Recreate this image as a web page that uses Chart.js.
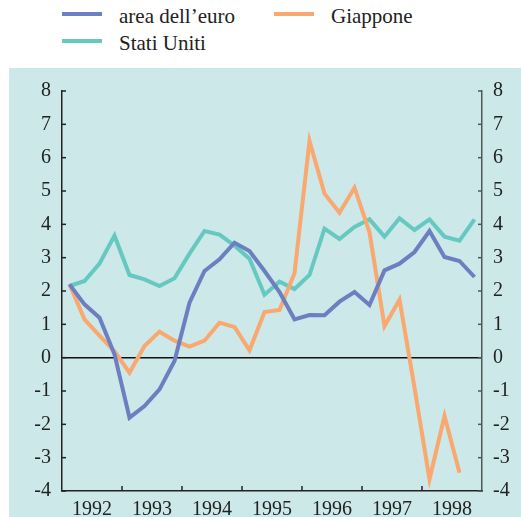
<!DOCTYPE html>
<html>
<head>
<meta charset="utf-8">
<script src="https://cdn.jsdelivr.net/npm/chart.js@4"></script>
<style>
    body { margin: 0; background: #fff; width: 521px; height: 517px; position: relative; overflow: hidden; }
    .legend-item { position: absolute; font-family: 'Liberation Serif'; font-size: 21px; line-height: 20px; color: #222; white-space: nowrap; }
    .swatch { position: absolute; width: 40px; height: 4px; }
    #panel { position: absolute; left: 9px; top: 68px; width: 512px; height: 449px; background: #cce8e8; }
</style>
</head>
<body>
<div id="legend"></div>
<div id="panel"><canvas id="chart" width="512" height="449"></canvas></div>
<script>
// Chart data
const years = ['1992', '1993', '1994', '1995', '1996', '1997', '1998'];
const quarters = years.flatMap(y => ['I', 'II', 'III', 'IV'].map(q => q + ' trim. ' + y));

const euroArea = [2.2, 1.6, 1.2, 0.1, -1.8, -1.45, -0.95, -0.1, 1.65, 2.6, 2.95, 3.45, 3.2, 2.6,
                  1.97, 1.15, 1.28, 1.27, 1.68, 1.97, 1.58, 2.62, 2.82, 3.17, 3.8, 3.02, 2.9, 2.42];
const japan = [2.2, 1.15, 0.66, 0.19, -0.45, 0.35, 0.78, 0.51, 0.33, 0.51, 1.05, 0.92, 0.22, 1.37,
               1.43, 2.53, 6.5, 4.92, 4.35, 5.1, 3.76, 0.95, 1.74, -0.9, -3.65, -1.75, -3.45, null];
const unitedStates = [2.15, 2.3, 2.82, 3.66, 2.48, 2.35, 2.15, 2.38, 3.12, 3.8, 3.69, 3.36, 2.97, 1.89,
                      2.28, 2.06, 2.48, 3.87, 3.56, 3.92, 4.15, 3.63, 4.18, 3.83, 4.15, 3.63, 3.51, 4.15];

const series = [
    { label: 'area dell\u2019euro', data: euroArea, color: '#6b7fc1' },
    { label: 'Giappone', data: japan, color: '#f9a870' },
    { label: 'Stati Uniti', data: unitedStates, color: '#66c9c1' }
];

// HTML legend (two columns)
const legendPos = [
    { x: 62, y: 6 },
    { x: 274, y: 6 },
    { x: 62, y: 33 }
];
const legendEl = document.getElementById('legend');
series.forEach((s, i) => {
    const p = legendPos[i];
    const sw = document.createElement('div');
    sw.className = 'swatch';
    sw.style.left = p.x + 'px';
    sw.style.top = (p.y + 6) + 'px';
    sw.style.background = s.color;
    legendEl.appendChild(sw);
    const t = document.createElement('div');
    t.className = 'legend-item';
    t.style.left = (p.x + 57) + 'px';
    t.style.top = p.y + 'px';
    t.textContent = s.label;
    legendEl.appendChild(t);
});

// Inward tick marks
const innerTicks = {
    id: 'innerTicks',
    afterDraw(chart) {
        const { ctx, chartArea } = chart;
        ctx.save();
        ctx.lineWidth = 1.5;
        ctx.strokeStyle = '#222';
        chart.scales.y.ticks.forEach(t => {
            const py = chart.scales.y.getPixelForValue(t.value);
            ctx.beginPath(); ctx.moveTo(chartArea.left, py); ctx.lineTo(chartArea.left + 4, py); ctx.stroke();
        });
        ctx.strokeStyle = '#4a5a58';
        chart.scales.y2.ticks.forEach(t => {
            const py = chart.scales.y2.getPixelForValue(t.value);
            ctx.beginPath(); ctx.moveTo(chartArea.right, py); ctx.lineTo(chartArea.right - 4, py); ctx.stroke();
        });
        ctx.strokeStyle = '#222';
        const xs = chart.scales.x2;
        for (let i = 1; i < years.length; i++) {
            const px = (xs.getPixelForTick(i - 1) + xs.getPixelForTick(i)) / 2;
            ctx.beginPath(); ctx.moveTo(px, chartArea.bottom); ctx.lineTo(px, chartArea.bottom - 5); ctx.stroke();
        }
        ctx.restore();
    }
};

Chart.defaults.font.family = 'Liberation Serif';
Chart.defaults.font.size = 20;
Chart.defaults.color = '#222';

const yTicks = { stepSize: 1, padding: 11, font: { family: 'Liberation Serif', size: 20 } };

new Chart(document.getElementById('chart').getContext('2d'), {
    type: 'line',
    data: {
        labels: quarters,
        datasets: series.map((s, i) => ({
            label: s.label,
            data: s.data,
            borderColor: s.color,
            backgroundColor: s.color,
            borderWidth: 4,
            pointRadius: 0,
            tension: 0,
            spanGaps: false,
            order: i
        }))
    },
    options: {
        responsive: false,
        animation: false,
        devicePixelRatio: 1,
        layout: { padding: { top: 16.5, left: 0, right: 0, bottom: 0 } },
        plugins: { legend: { display: false }, tooltip: { enabled: false } },
        scales: {
            x: {
                type: 'category',
                offset: true,
                display: false
            },
            x2: {
                type: 'category',
                labels: years,
                offset: true,
                position: 'bottom',
                grid: { display: false, drawTicks: false },
                border: { display: true, color: '#222', width: 1.5 },
                ticks: { padding: 7, maxRotation: 0, autoSkip: false, font: { family: 'Liberation Serif', size: 20 } },
                afterFit: scale => { scale.height = 26; }
            },
            y: {
                position: 'left',
                min: -4,
                max: 8,
                ticks: yTicks,
                grid: {
                    drawTicks: false,
                    color: c => (c.tick && c.tick.value === 0 ? '#111' : 'rgba(0,0,0,0)'),
                    lineWidth: 1.5
                },
                border: { display: true, color: '#222', width: 1.5 },
                afterFit: scale => { scale.width = 53; }
            },
            y2: {
                position: 'right',
                min: -4,
                max: 8,
                ticks: yTicks,
                grid: { display: false, drawTicks: false },
                border: { display: true, color: '#4a5a58', width: 1.5 },
                afterFit: scale => { scale.width = 39; }
            }
        }
    },
    plugins: [innerTicks]
});
</script>
</body>
</html>
